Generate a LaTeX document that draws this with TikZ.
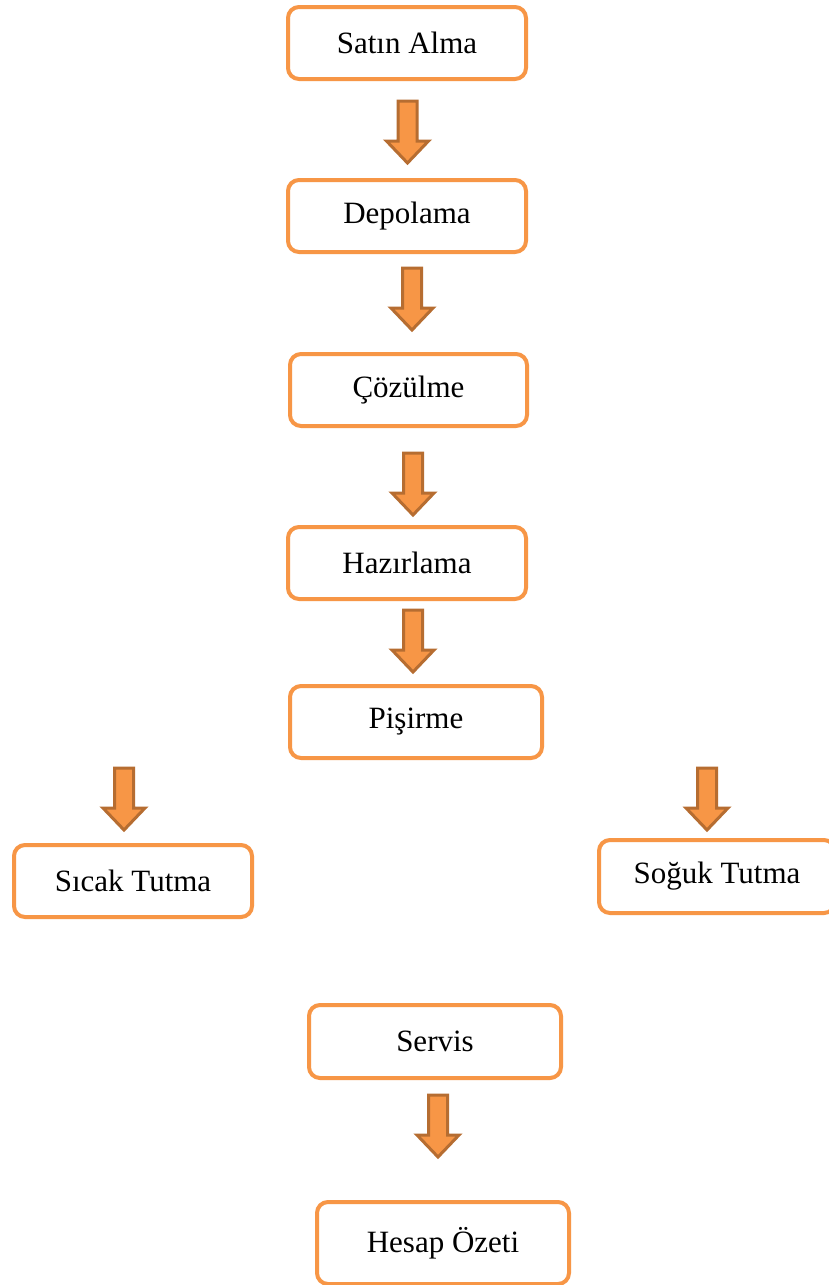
\documentclass[tikz,border=0pt]{standalone}
\usepackage{fontspec}
\setmainfont{Liberation Serif}
\definecolor{boxorange}{HTML}{F79646}
\definecolor{arrowbrown}{HTML}{B66D31}
\tikzset{
  stepbox/.style={draw=boxorange, line width=4pt, rounded corners=11pt, fill=white,
    font=\fontsize{31}{37}\selectfont, inner sep=0pt, anchor=north west},
  blockarrow/.pic={\draw[draw=arrowbrown, fill=boxorange, line width=3pt, line join=miter]
    (-9.5,0) -- (9.5,0) -- (9.5,-40) -- (21,-40) -- (0,-62) -- (-21,-40) -- (-9.5,-40) -- cycle;}
}
\begin{document}
\begin{tikzpicture}[x=1pt,y=1pt]
\clip (0,0) rectangle (829,-1285);
\fill[white] (0,0) rectangle (829,-1285);
\newcommand{\stepnode}[6]{%
  \node[stepbox, minimum width=#4pt, minimum height=#5pt] (#1) at (#2,#3) {};
  \node at (#1.center) {\fontsize{31}{37}\selectfont #6};}
\stepnode{satin}{286}{-5}{238}{72}{Satın Alma}
\stepnode{depo}{286}{-178}{238}{72}{Depolama}
\stepnode{coz}{288}{-352}{237}{72}{Çözülme}
\stepnode{haz}{286}{-525}{238}{72}{Hazırlama}
\stepnode{pis}{288}{-684}{252}{72}{Pişirme}
\stepnode{sicak}{12}{-843}{238}{72}{Sıcak Tutma}
\stepnode{soguk}{597}{-838}{236}{73}{Soğuk Tutma}
\stepnode{servis}{307}{-1003}{252}{73}{Servis}
\stepnode{hesap}{315}{-1200}{252}{82}{Hesap Özeti}
\pic at (407.5,-101) {blockarrow};
\pic at (412,-268) {blockarrow};
\pic at (413,-453) {blockarrow};
\pic at (413,-610) {blockarrow};
\pic at (124,-768) {blockarrow};
\pic at (707,-768) {blockarrow};
\pic at (438,-1095) {blockarrow};
\end{tikzpicture}
\end{document}
